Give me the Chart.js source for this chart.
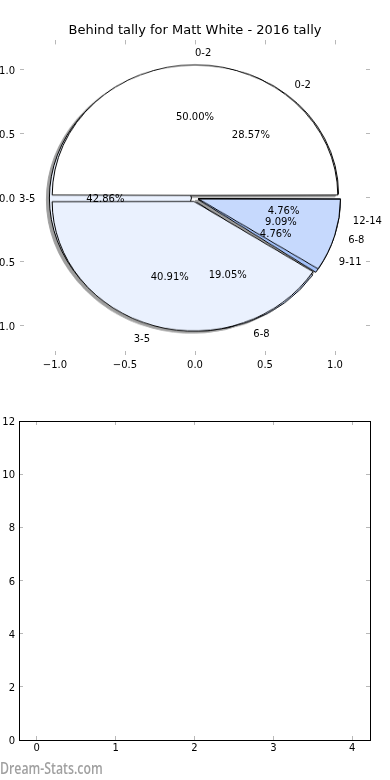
<!DOCTYPE html>
<html>
<head>
<meta charset="utf-8">
<script src="https://cdn.jsdelivr.net/npm/chart.js@4.4.0/dist/chart.umd.min.js"></script>
<style>
html, body { margin: 0; padding: 0; background: #fff; }
#page { position: relative; width: 390px; height: 780px; overflow: hidden; }
#pies {
    position: absolute; left: 25px; top: 28px; width: 340px; height: 340px;
    transform: scaleY(0.9143); transform-origin: 50% 50%;
    filter: drop-shadow(-2.8px 2.8px 0 rgba(0, 0, 0, 0.38));
}
#pies canvas { position: absolute; left: 0; top: 0; }
#pieAxes { position: absolute; left: 0; top: 0; }
#barBox { position: absolute; left: 0; top: 380px; }
#mark {
    position: absolute; left: 0; top: 757px; white-space: nowrap;
    font: 600 16px 'Open Sans', sans-serif; color: #a0a0a0;
    transform: scaleX(0.77); transform-origin: 0 0;
}
</style>
</head>
<body>
<div id="page">
    <div id="pies">
        <canvas id="pieA" width="340" height="340"></canvas>
        <canvas id="pieB" width="340" height="340"></canvas>
    </div>
    <canvas id="pieAxes" width="390" height="380"></canvas>
    <canvas id="barBox" width="390" height="400"></canvas>
    <div id="mark">Dream-Stats.com</div>
</div>
<script>
// Pie data (two tallies drawn on top of each other)
const chartTitle = 'Behind tally for Matt White - 2016 tally';
const pieLabelsA = ['0-2', '3-5', '6-8', '9-11', '12-14'];
const pieValuesA = [28.57, 42.86, 19.05, 4.76, 4.76];
const pieLabelsB = ['0-2', '3-5', '6-8'];
const pieValuesB = [50.00, 40.91, 9.09];
const sliceColors = ['#ffffff', '#eaf1fe', '#c6d9fd', '#a3c1fa', '#7fa8f5'];

// Tick labels
const pieTicks = [-1.0, -0.5, 0.0, 0.5, 1.0];
const barXTicks = [0, 1, 2, 3, 4];
const barYTicks = [0, 2, 4, 6, 8, 10, 12];

const explode = 0.04;
const pieRadius = 140;
const explodePx = explode * pieRadius;
const tickFont = { family: "'DejaVu Sans', sans-serif", size: 10 };

// chart.js arc offset -> same shift for every slice
const sliceOffset = (ctx) => {
    if (ctx.raw === undefined) return 0;
    const total = ctx.dataset.data.reduce((a, b) => a + b, 0);
    const c = ctx.raw / total * 2 * Math.PI;
    return 4 * explodePx / (2 - Math.sin(Math.min(Math.PI, c)));
};

function pieConfig(labels, values) {
    // matplotlib goes counter-clockwise from 3 o'clock, chart.js clockwise
    return {
        type: 'pie',
        data: {
            labels: labels.slice().reverse(),
            datasets: [{
                data: values.slice().reverse(),
                backgroundColor: sliceColors.slice(0, values.length).reverse(),
                borderColor: '#000',
                borderWidth: 1,
                offset: sliceOffset
            }]
        },
        options: {
            responsive: false,
            animation: false,
            events: [],
            radius: pieRadius,
            rotation: 90,
            plugins: { legend: { display: false }, tooltip: { enabled: false } }
        }
    };
}

new Chart(document.getElementById('pieA'), pieConfig(pieLabelsA, pieValuesA));
new Chart(document.getElementById('pieB'), pieConfig(pieLabelsB, pieValuesB));

const pieText = {
    id: 'pieText',
    afterDraw(chart) {
        const { ctx, scales: { x, y } } = chart;
        ctx.save();
        ctx.font = "10px 'DejaVu Sans', sans-serif";
        ctx.fillStyle = '#000';
        ctx.textBaseline = 'middle';
        [[pieLabelsA, pieValuesA], [pieLabelsB, pieValuesB]].forEach(([labels, values]) => {
            const total = values.reduce((a, b) => a + b, 0);
            let start = 0;
            values.forEach((v, i) => {
                const mid = (start + v / 2) / total * 2 * Math.PI;
                start += v;
                const cx = explode * Math.cos(mid);
                const cy = explode * Math.sin(mid);
                const lx = cx + 1.1 * Math.cos(mid);
                const ly = cy + 1.1 * Math.sin(mid);
                ctx.textAlign = lx > 0 ? 'left' : 'right';
                ctx.fillText(labels[i], x.getPixelForValue(lx), y.getPixelForValue(ly) + 1.5);
                ctx.textAlign = 'center';
                ctx.fillText(v.toFixed(2) + '%',
                    x.getPixelForValue(cx + 0.6 * Math.cos(mid)),
                    y.getPixelForValue(cy + 0.6 * Math.sin(mid)) + 1.5);
            });
        });
        ctx.restore();
    }
};

function axis(pos, min, max, ticks, size, opts) {
    const vertical = pos === 'left' || pos === 'right';
    return {
        type: 'linear',
        position: pos,
        min: min,
        max: max,
        offset: false,
        afterBuildTicks: s => { s.ticks = ticks.map(v => ({ value: v })); },
        afterFit: s => { if (vertical) s.width = size; else s.height = size; },
        border: { display: opts.border, color: '#000', width: 1 },
        grid: { display: true, offset: false, drawOnChartArea: false, drawTicks: true, tickLength: -4, color: '#b8b8b8', lineWidth: 1 },
        ticks: {
            display: opts.labels,
            color: '#000',
            font: tickFont,
            padding: opts.pad || 0,
            labelOffset: vertical ? 1.5 : 0,
            maxRotation: 0,
            autoSkip: false,
            callback: opts.fmt
        }
    };
}

const fmtPie = v => (v < 0 ? '\u2212' : '') + Math.abs(v).toFixed(1);
const fmtInt = v => String(v);

new Chart(document.getElementById('pieAxes'), {
    type: 'scatter',
    data: { datasets: [{ data: [] }] },
    options: {
        responsive: false,
        animation: false,
        events: [],
        layout: { padding: 0 },
        plugins: {
            legend: { display: false },
            tooltip: { enabled: false },
            title: {
                display: true,
                text: chartTitle,
                color: '#000',
                font: { family: "'DejaVu Sans', sans-serif", size: 13, weight: 'normal', lineHeight: 1.2 },
                padding: { top: 22.5, bottom: 2.3 }
            }
        },
        scales: {
            x: axis('bottom', -1.25, 1.25, pieTicks, 25, { labels: true, border: false, pad: 8, fmt: fmtPie }),
            x2: axis('top', -1.25, 1.25, pieTicks, 0, { labels: false, border: false }),
            y: axis('left', -1.23, 1.23, pieTicks, 20, { labels: true, border: false, pad: 9, fmt: fmtPie }),
            y2: axis('right', -1.23, 1.23, pieTicks, 20, { labels: false, border: false })
        }
    },
    plugins: [pieText]
});

// empty lower panel
new Chart(document.getElementById('barBox'), {
    type: 'scatter',
    data: { datasets: [{ data: [] }] },
    options: {
        responsive: false,
        animation: false,
        events: [],
        layout: { padding: 0 },
        plugins: { legend: { display: false }, tooltip: { enabled: false } },
        scales: {
            x: axis('bottom', -0.225, 4.225, barXTicks, 40, { labels: true, border: true, pad: 6, fmt: fmtInt }),
            x2: axis('top', -0.225, 4.225, barXTicks, 41, { labels: false, border: true }),
            y: axis('left', 0, 12, barYTicks, 19, { labels: true, border: true, pad: 8, fmt: fmtInt }),
            y2: axis('right', 0, 12, barYTicks, 20, { labels: false, border: true })
        }
    }
});
</script>
</body>
</html>
